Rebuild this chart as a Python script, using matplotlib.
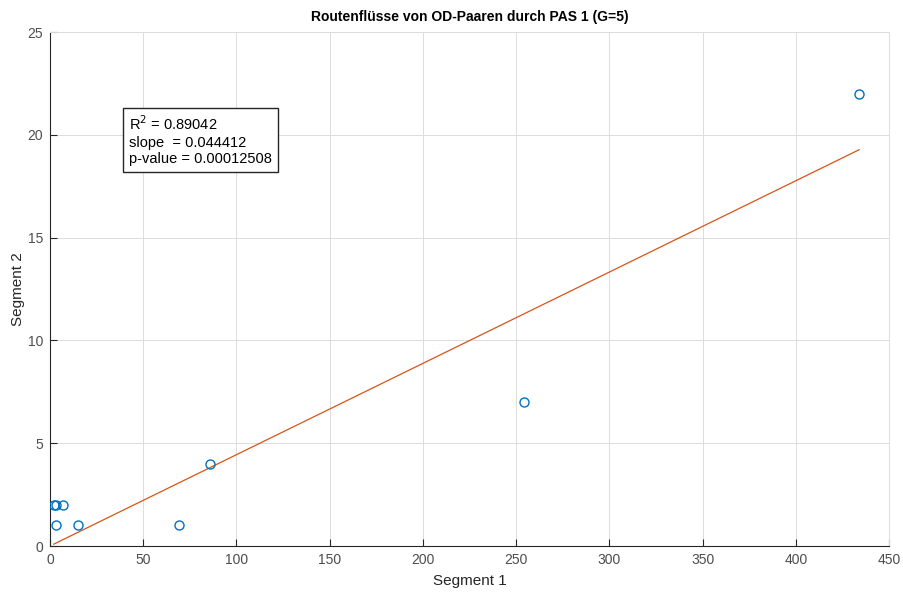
import numpy as np
from matplotlib import pyplot as plt

plt.rcParams['font.family'] = ['Liberation Sans', 'DejaVu Sans']

# route flows per OD pair through PAS 1
seg1 = [434, 254, 86, 69, 15, 3, 2, 3, 7]
seg2 = [22, 7, 4, 1, 1, 1, 2, 2, 2]

r2 = 0.89042
slope = 0.044412
pval = 0.00012508
intercept = 0.0

xticks = [0, 50, 100, 150, 200, 250, 300, 350, 400, 450]
yticks = [0, 5, 10, 15, 20, 25]

fig = plt.figure(figsize=(9.04, 5.92), dpi=100)
ax = fig.add_axes([50/904, 1-546/592, 839/904, 514/592])

ax.plot(seg1, seg2, 'o', mec='#0072BD', mfc='none', ms=6.5, mew=1.0, zorder=3)

xl = np.array([min(seg1), max(seg1)])
ax.plot(xl, slope*xl + intercept, '-', color='#D95319', lw=0.9, zorder=2)

ax.set_xlim(0, 450)
ax.set_ylim(0, 25)
ax.set_xticks(xticks)
ax.set_yticks(yticks)
ax.grid(True, color='#dcdcdc', lw=0.7)
ax.set_axisbelow(True)

for side in ['left', 'bottom']:
    ax.spines[side].set_color('#262626')
    ax.spines[side].set_linewidth(0.8)
for side in ['top', 'right']:
    ax.spines[side].set_color('#dcdcdc')
    ax.spines[side].set_linewidth(0.7)
ax.tick_params(direction='in', length=5, width=0.8,
               colors='#262626', labelsize=10, pad=5)
for lab in ax.get_xticklabels() + ax.get_yticklabels():
    lab.set_color('#4d4d4d')

ax.set_xlabel('Segment 1', fontsize=11, color='#262626', labelpad=5)
ax.set_ylabel('Segment 2', fontsize=11, color='#262626')
ax.yaxis.set_label_coords(-25/839, 0.5)
ax.set_title('Routenflüsse von OD-Paaren durch PAS 1 (G=5)',
             fontsize=10, fontweight='bold', pad=8)

txt = ('R$^2$ = %.5f\nslope  = %.6f\np-value = %.8f' % (r2, slope, pval))
ax.text(42.5, 21.0, txt, fontsize=10.5, va='top', ha='left', linespacing=1.25,
        bbox=dict(boxstyle='square,pad=0.4', fc='white', ec='#262626', lw=1.0))

plt.savefig('out.png', dpi=100)
